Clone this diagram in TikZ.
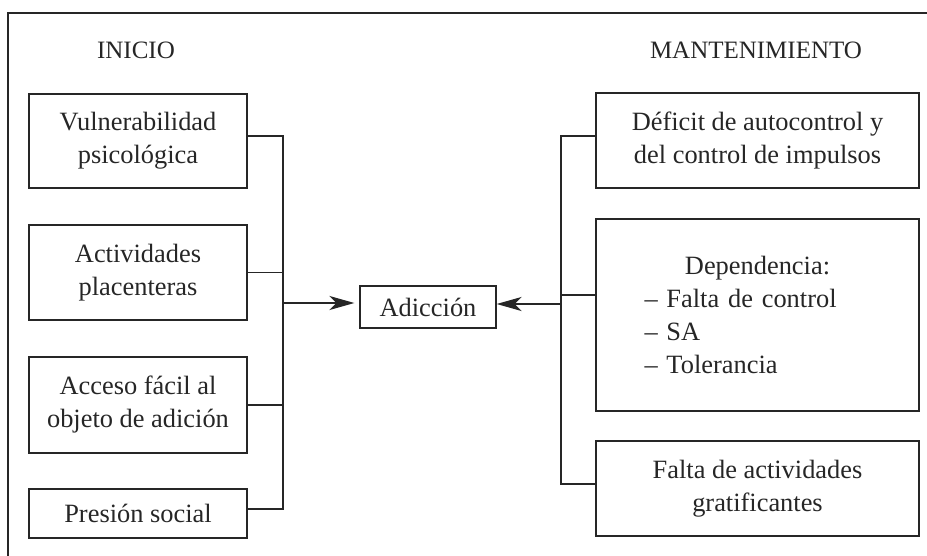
\documentclass[tikz,border=0pt]{standalone}
\usepackage{fontspec}
\setmainfont{Liberation Serif}
\usetikzlibrary{arrows.meta}
\definecolor{ink}{HTML}{262626}
\begin{document}
\begin{tikzpicture}[x=0.5pt,y=-0.5pt,
  txt/.style={text=ink, font=\fontsize{13.2}{16.5}\selectfont},
  head/.style={text=ink, font=\fontsize{12.5}{15}\selectfont},
  box/.style={txt, draw=ink, line width=0.6pt, align=center, inner sep=0pt},
  link/.style={draw=ink, line width=0.55pt},
  arr/.style={draw=ink, line width=1.3pt, -{Stealth[length=12.5pt,width=7pt,inset=3.5pt]}}]
\useasboundingbox (0,0) rectangle (927,556);
% frame
\draw[link] (8,556) -- (8,13) -- (927,13);
% headings
\node[head] (ini) at (136,50) {INICIO};
\node[head] (man) at (756,50) {MANTENIMIENTO};
% left boxes
\node[box, minimum width=109pt, minimum height=47pt] (l1) at (138,141) {Vulnerabilidad\\psicológica};
\node[box, minimum width=109pt, minimum height=47.5pt] (l2) at (138,272.5) {Actividades\\placenteras};
\node[box, minimum width=109pt, minimum height=48pt] (l3) at (138,405) {Acceso fácil al\\objeto de adición};
\node[box, minimum width=109pt, minimum height=24.5pt] (l4) at (138,513.5) {Presión social};
% centre
\node[box, minimum width=68pt, minimum height=21pt] (ad) at (428,307) {Adicción};
% right boxes
\node[box, minimum width=161.5pt, minimum height=47.5pt] (r1) at (757.5,140.5) {Déficit de autocontrol y\\del control de impulsos};
\node[box, minimum width=161.5pt, minimum height=96pt, text width=113pt, align=left] (r2) at (757.5,315)
  {\makebox[\linewidth][c]{Dependencia:}\\– Falta de control\\– SA\\– Tolerancia};
\node[box, minimum width=161.5pt, minimum height=47.5pt] (r3) at (757.5,488.5) {Falta de actividades\\gratificantes};
% buses
\coordinate (lbb) at (283,509);
\coordinate (la) at (283,303);
\coordinate (rbb) at (561,484);
\coordinate (ra) at (561,304);
\draw[link] ([yshift=2.5pt]l1.east) -| (lbb) -- ([yshift=2.25pt]l4.east);
\draw[link] (l2.east) -- (l2.east -| lbb);
\draw[link] (l3.east) -- (l3.east -| lbb);
\draw[arr] (la) -- ([xshift=-2.5pt]la -| ad.west);
\draw[link] ([yshift=2.25pt]r1.west) -| (rbb) -- ([yshift=2.25pt]r3.west);
\draw[link] ([yshift=10pt]r2.west) -- ([yshift=10pt]r2.west -| rbb);
\draw[arr] (ra) -- (ra -| ad.east);
\end{tikzpicture}
\end{document}
